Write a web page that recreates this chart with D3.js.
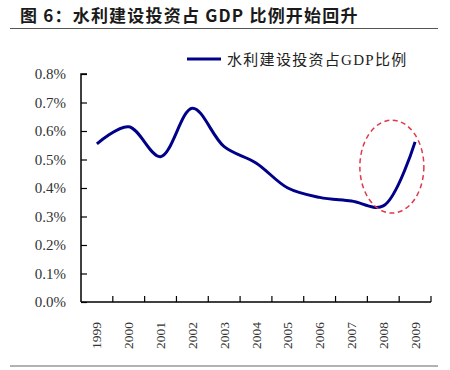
<!DOCTYPE html>
<html><head><meta charset="utf-8">
<script src="https://cdn.jsdelivr.net/npm/d3@7/dist/d3.min.js"></script>
<style>body{margin:0;background:#fff}svg{display:block}</style>
</head><body>
<script>
const years = ["1999","2000","2001","2002","2003","2004","2005","2006","2007","2008","2009"];
const ratio = [0.555,0.615,0.51,0.68,0.545,0.488,0.400,0.367,0.354,0.337,0.562];
const yTicks = [0,0.1,0.2,0.3,0.4,0.5,0.6,0.7,0.8];
const seriesName = "水利建设投资占GDP比例";
const titleText = "图 6：水利建设投资占 GDP 比例开始回升";
// annotation ellipse (data units): centre between 2008 & 2009
const highlight = {from:"2008", to:"2009", frac:0.27, value:0.475, valueSpan:0.163};

const W=450,H=370;
const svg=d3.select("body").append("svg").attr("width",W).attr("height",H);
const m={l:81,r:431,t:74,b:302};
const x=d3.scaleBand().domain(years).range([m.l,m.r]).padding(0);
const y=d3.scaleLinear().domain([0,0.8]).range([m.b,m.t]);

// title
svg.append("text").attr("x",20).attr("y",21.5)
  .attr("font-family","'Noto Sans CJK SC', sans-serif").attr("font-weight","bold")
  .attr("font-size",17).attr("letter-spacing",1.2).attr("fill","#1a1a1a").text(titleText);
svg.append("line").attr("x1",10).attr("x2",438).attr("y1",28.5).attr("y2",28.5)
  .attr("stroke","#555").attr("stroke-width",1.2);
svg.append("line").attr("x1",10).attr("x2",438).attr("y1",366).attr("y2",366)
  .attr("stroke","#666").attr("stroke-width",1.2);

// y axis
const ya=d3.axisRight(y).tickValues(yTicks).tickSize(6).tickFormat(d=>d.toFixed(1)+"%");
const gy=svg.append("g").attr("transform",`translate(${m.l},0)`).call(ya);
gy.select(".domain").attr("stroke","#000").attr("stroke-width",1.5).attr("d",`M6,${m.t}H0V${m.b}`);
gy.selectAll(".tick line").attr("stroke","#000").attr("stroke-width",1.2);
gy.selectAll(".tick text").attr("x",-15).attr("text-anchor","end")
  .attr("font-family","'Liberation Serif','Times New Roman',serif").attr("font-size",15).attr("fill","#333");

// x axis with ticks between categories
const gx=svg.append("g").attr("transform",`translate(0,${m.b})`);
gx.append("line").attr("x1",m.l).attr("x2",m.r).attr("y1",0).attr("y2",0)
  .attr("stroke","#000").attr("stroke-width",1.5);
const bounds=years.map(d=>x(d)).concat([m.r]);
gx.selectAll("line.tk").data(bounds.slice(1)).join("line").attr("class","tk")
  .attr("x1",d=>d).attr("x2",d=>d).attr("y1",0).attr("y2",-6)
  .attr("stroke","#000").attr("stroke-width",1.2);
gx.selectAll("text").data(years).join("text")
  .attr("transform",d=>`translate(${x(d)+x.bandwidth()/2},20) rotate(-90)`)
  .attr("text-anchor","end").attr("dominant-baseline","central")
  .attr("font-family","'Liberation Serif','Times New Roman',serif").attr("font-size",13.5).attr("fill","#333")
  .text(d=>d);

// line
const line=d3.line().x((d,i)=>x(years[i])+x.bandwidth()/2).y(d=>y(d)).curve(d3.curveCatmullRom.alpha(0.5));
svg.append("path").datum(ratio).attr("d",line).attr("fill","none")
  .attr("stroke","#000088").attr("stroke-width",3).attr("stroke-linejoin","round");

// highlight ellipse
const cx0=x(highlight.from)+x.bandwidth()/2, cx1=x(highlight.to)+x.bandwidth()/2;
const ecx=cx0+(cx1-cx0)*highlight.frac;
svg.append("ellipse").attr("cx",ecx).attr("cy",y(highlight.value))
  .attr("rx",32).attr("ry",y(0)-y(highlight.valueSpan))
  .attr("fill","none").attr("stroke","#e03a4a").attr("stroke-width",1.5).attr("stroke-dasharray","5,3.5");

// legend
svg.append("line").attr("x1",187).attr("x2",221).attr("y1",59).attr("y2",59)
  .attr("stroke","#000088").attr("stroke-width",3);
svg.append("text").attr("x",227).attr("y",64.5)
  .attr("font-family","'Liberation Serif','Noto Sans CJK SC',serif").attr("font-size",15).attr("letter-spacing",1.3).attr("fill","#222")
  .text(seriesName);
</script>
</body></html>
